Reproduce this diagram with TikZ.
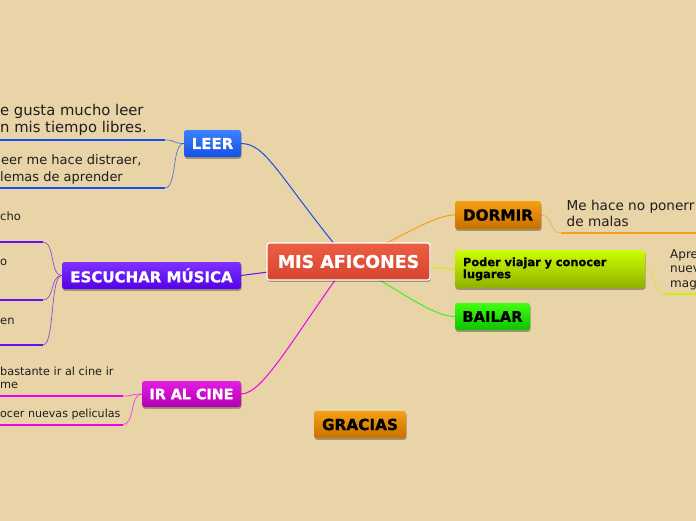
\documentclass[tikz,border=0pt]{standalone}
\usepackage{fontspec}
\setmainfont{DejaVu Sans}
\newfontfamily\heavy[FakeBold=0.8]{DejaVu Sans Bold}
\usetikzlibrary{shadows,backgrounds}
\definecolor{bg}{RGB}{233,212,168}
\definecolor{txt}{RGB}{30,30,30}
\definecolor{cTop}{RGB}{236,94,66}\definecolor{cBot}{RGB}{214,70,48}
\definecolor{bTop}{RGB}{60,130,255}\definecolor{bBot}{RGB}{20,80,230}\definecolor{bLine}{RGB}{20,80,240}
\definecolor{pTop}{RGB}{125,50,255}\definecolor{pBot}{RGB}{85,0,232}\definecolor{pLine}{RGB}{100,16,240}
\definecolor{mTop}{RGB}{228,30,228}\definecolor{mBot}{RGB}{176,0,176}\definecolor{mLine}{RGB}{240,0,240}
\definecolor{oTop}{RGB}{245,160,20}\definecolor{oBot}{RGB}{200,112,0}\definecolor{oLine}{RGB}{245,160,32}
\definecolor{yTop}{RGB}{204,255,0}\definecolor{yBot}{RGB}{144,176,0}\definecolor{yLine}{RGB}{200,240,0}
\definecolor{gTop}{RGB}{64,255,16}\definecolor{gBot}{RGB}{16,192,0}\definecolor{gLine}{RGB}{64,240,32}
\tikzset{
  topic/.style={rounded corners=2.5pt, inner sep=0pt, font=\fontsize{15}{18}\selectfont\heavy,
    drop shadow={shadow xshift=0.6pt,shadow yshift=-1.8pt,opacity=0.3,fill=black}},
  wtopic/.style={topic, text=white},
  ktopic/.style={topic, text=black},
  sub/.style={anchor=base west, inner sep=0pt, text=txt},
  link/.style={line width=1pt},
  sublink/.style={line width=0.7pt, opacity=0.7},
  uline/.style={line width=2pt},
}
\begin{document}
\begin{tikzpicture}[x=1pt,y=-1pt]
\useasboundingbox (0,0) rectangle (696,520);
\clip (0,0) rectangle (696,520);
% nodes
\node[topic, text=white, draw=white, line width=1.2pt, top color=cTop, bottom color=cBot,
  minimum width=163pt, minimum height=37pt, font=\fontsize{17.5}{20}\selectfont\heavy] (c) at (348.5,261.5) {MIS AFICONES};
\node[wtopic, top color=bTop, bottom color=bBot, minimum width=57pt, minimum height=27pt] (leer) at (212.5,143.5) {LEER};
\node[wtopic, top color=pTop, bottom color=pBot, minimum width=179pt, minimum height=27pt, font=\fontsize{15}{17}\selectfont\heavy] (esc) at (151.5,275.5) {ESCUCHAR MÚSICA};
\node[wtopic, top color=mTop, bottom color=mBot, minimum width=99pt, minimum height=26pt, font=\fontsize{14.3}{16}\selectfont\heavy] (ir) at (191.5,394) {IR AL CINE};
\node[ktopic, top color=oTop, bottom color=oBot, minimum width=86pt, minimum height=28pt, font=\fontsize{15.3}{17}\selectfont\heavy] (dor) at (498,215) {DORMIR};
\node[ktopic, top color=yTop, bottom color=yBot, minimum width=190pt, minimum height=38pt, inner xsep=8pt,
  text width=174pt, align=left, font=\fontsize{11.4}{12}\selectfont\heavy] (pod) at (550,269) {Poder viajar y conocer\\lugares};
\node[ktopic, top color=gTop, bottom color=gBot, minimum width=75pt, minimum height=27pt, font=\fontsize{14.7}{17}\selectfont\heavy] (bai) at (492.5,316.5) {BAILAR};
\node[ktopic, top color=oTop, bottom color=oBot, minimum width=92pt, minimum height=27pt, font=\fontsize{15.3}{17}\selectfont\heavy] (gra) at (360,424.5) {GRACIAS};
% sub texts
\node[sub, font=\fontsize{14.8}{18}\selectfont] (l1a) at (0,115) {e gusta mucho leer};
\node[sub, font=\fontsize{14.8}{18}\selectfont] (l1b) at (0,132) {n mis tiempo libres.};
\node[sub, font=\fontsize{13}{17}\selectfont] (l2a) at (1,164) {eer me hace distraer,};
\node[sub, font=\fontsize{13}{17}\selectfont] (l2b) at (0,181) {lemas de aprender};
\node[sub, font=\fontsize{11.5}{15}\selectfont] (e1) at (0,220) {cho};
\node[sub, font=\fontsize{11.5}{15}\selectfont] (e2) at (0,265) {o};
\node[sub, font=\fontsize{11.5}{15}\selectfont] (e3) at (0,324) {en};
\node[sub, font=\fontsize{11.3}{13}\selectfont] (i1a) at (0,375) {bastante ir al cine ir};
\node[sub, font=\fontsize{11.3}{13}\selectfont] (i1b) at (0,388.5) {me};
\node[sub, font=\fontsize{11.1}{13}\selectfont] (i2) at (0,417.5) {ocer nuevas peliculas};
\node[sub, font=\fontsize{13.6}{17}\selectfont] (d1a) at (566.5,210) {Me hace no ponerr};
\node[sub, font=\fontsize{13.6}{17}\selectfont] (d1b) at (566.5,226) {de malas};
\node[sub, font=\fontsize{12}{14}\selectfont] (p1a) at (670,258) {Apre};
\node[sub, font=\fontsize{12}{14}\selectfont] (p1b) at (670,272.5) {nuev};
\node[sub, font=\fontsize{12}{14}\selectfont] (p1c) at (670,287) {mag};
% underline coordinates
\coordinate (ul1) at (165,140); \coordinate (ul1e) at (-5,140);
\coordinate (ul2) at (165,188); \coordinate (ul2e) at (-5,188);
\coordinate (ue1) at (43,242); \coordinate (ue1e) at (-5,242);
\coordinate (ue2) at (43,300); \coordinate (ue2e) at (-5,300);
\coordinate (ue3) at (43,345); \coordinate (ue3e) at (-5,345);
\coordinate (ui1) at (123,396); \coordinate (ui1e) at (-5,396);
\coordinate (ui2) at (123,424.5); \coordinate (ui2e) at (-5,424.5);
\coordinate (ud1) at (561,233); \coordinate (ud1e) at (700,233);
\coordinate (up1) at (665,294); \coordinate (up1e) at (700,294);
\begin{scope}[on background layer]
\fill[bg] (-5,-5) rectangle (701,525);
% main links
\draw[link, bLine] (c.center) .. controls +(-70,-85) and +(25,0) .. (leer.east);
\draw[link, pLine] (c.center) -- (esc.east);
\draw[link, mLine] (c.center) .. controls +(-55,75) and +(22,0) .. (ir.east);
\draw[link, oLine] (c.center) .. controls +(60,-28) and +(-20,0) .. (dor.west);
\draw[link, yLine] (c.center) -- (pod.west);
\draw[link, gLine] (c.center) .. controls +(60,35) and +(-20,0) .. (bai.west);
% sub links
\draw[sublink, bLine] (leer.west) .. controls +(-12,0) and +(12,0) .. (ul1);
\draw[sublink, bLine] (leer.west) .. controls +(-12,0) and +(12,0) .. (ul2);
\draw[sublink, pLine] (esc.west) .. controls +(-12,0) and +(12,0) .. (ue1);
\draw[sublink, pLine] (esc.west) .. controls +(-12,0) and +(12,0) .. (ue2);
\draw[sublink, pLine] (esc.west) .. controls +(-12,0) and +(12,0) .. (ue3);
\draw[sublink, mLine] (ir.west) .. controls +(-12,0) and +(12,0) .. (ui1);
\draw[sublink, mLine] (ir.west) .. controls +(-12,0) and +(12,0) .. (ui2);
\draw[sublink, oLine] (dor.east) .. controls +(12,0) and +(-12,0) .. (ud1);
\draw[sublink, yLine] (pod.east) .. controls +(12,0) and +(-12,0) .. (up1);
\end{scope}
% underlines
\draw[uline, bLine] (ul1) -- (ul1e);
\draw[uline, bLine] (ul2) -- (ul2e);
\draw[uline, pLine] (ue1) -- (ue1e);
\draw[uline, pLine] (ue2) -- (ue2e);
\draw[uline, pLine] (ue3) -- (ue3e);
\draw[uline, mLine] (ui1) -- (ui1e);
\draw[uline, mLine] (ui2) -- (ui2e);
\draw[uline, oLine] (ud1) -- (ud1e);
\draw[uline, yLine] (up1) -- (up1e);
\end{tikzpicture}
\end{document}
